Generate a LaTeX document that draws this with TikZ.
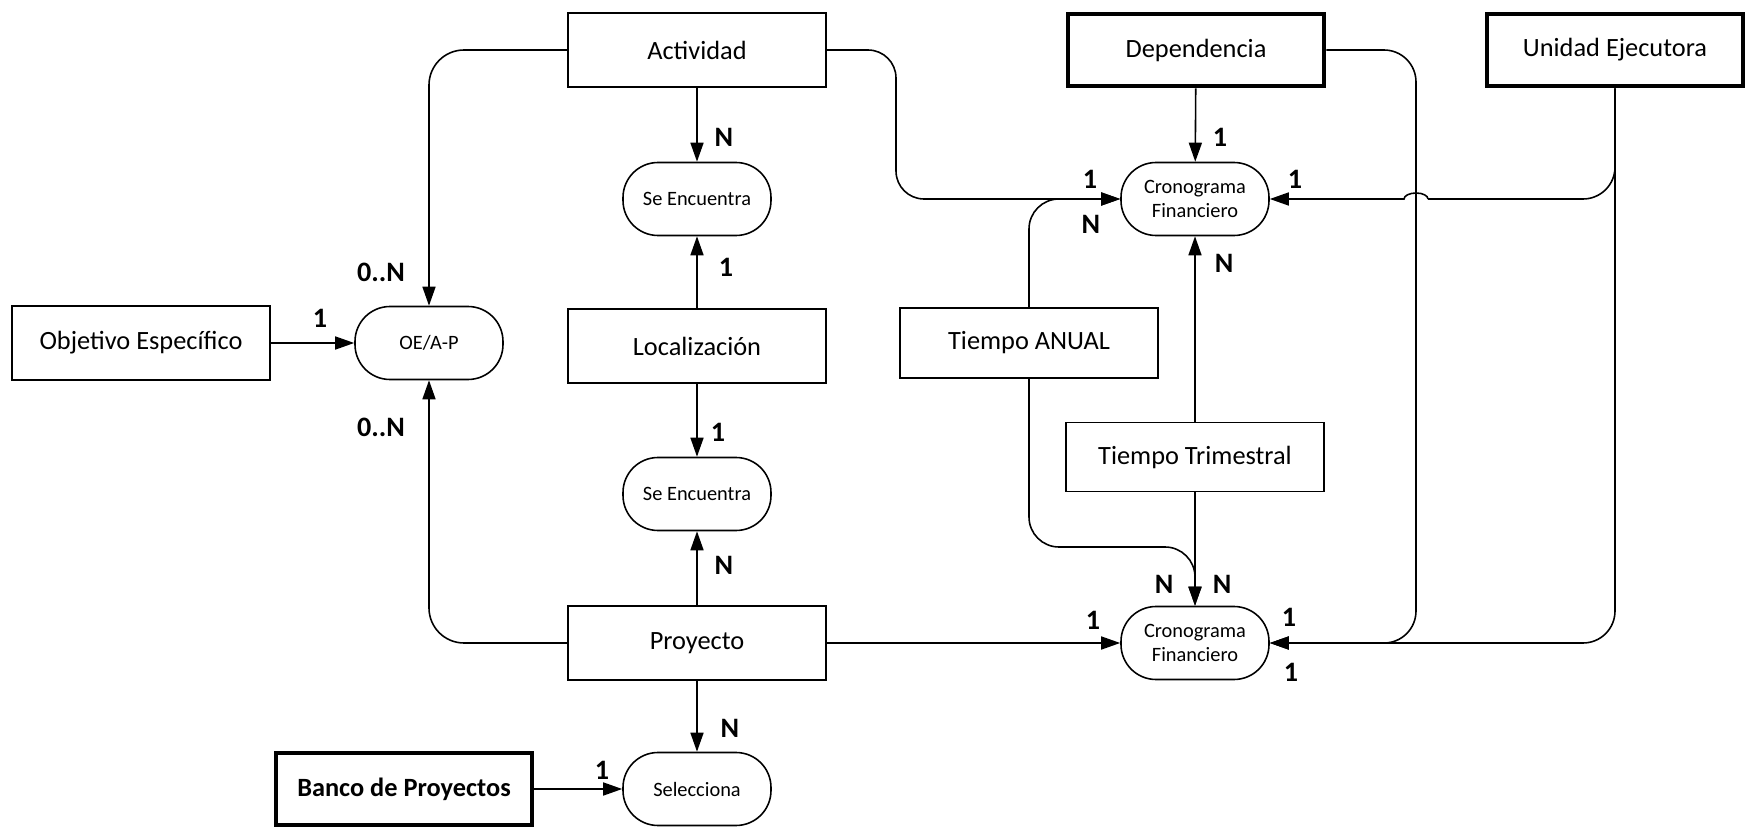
\documentclass[tikz,border=0pt]{standalone}
\usepackage{fontspec}
\setmainfont{Carlito}
\usetikzlibrary{arrows.meta}
\begin{document}
\begin{tikzpicture}[x=0.1mm,y=-0.1mm,
  ent/.style={draw, line width=0.45pt, minimum width=25.8mm, minimum height=7.4mm,
    inner sep=0pt, font=\fontsize{7.5}{9}\selectfont},
  strong/.style={ent, line width=1.4pt, minimum width=25.6mm, minimum height=7.2mm},
  rel/.style={draw, line width=0.45pt, rounded corners=3.5mm, minimum width=14.8mm,
    minimum height=7.3mm, inner sep=0pt, align=center, font=\fontsize{5.8}{6.9}\selectfont},
  card/.style={inner sep=0pt, font=\bfseries\fontsize{8}{9.6}\selectfont},
  wire/.style={line width=0.45pt},
  link/.style={wire, -{Triangle[length=1.9mm,width=1.3mm]}},
]
\useasboundingbox (0,0) rectangle (1747,828);

% entities
\node[ent] (obj) at (141,343) {Objetivo Específico};
\node[ent] (act) at (697,50) {Actividad};
\node[ent] (loc) at (697,346) {Localización};
\node[ent] (proy) at (697,643) {Proyecto};
\node[strong, font=\bfseries\fontsize{7.5}{9}\selectfont] (banco) at (404,789) {Banco de Proyectos};
\node[strong] (dep) at (1196,50) {Dependencia};
\node[strong] (ue) at (1615,50) {Unidad Ejecutora};
\node[ent, minimum height=7mm] (anual) at (1029,343) {Tiempo ANUAL};
\node[ent, minimum height=6.9mm] (trim) at (1195,457) {Tiempo Trimestral};

% relationships
\node[rel] (oe) at (429,343) {OE/A-P};
\node[rel] (se1) at (697,199) {Se Encuentra};
\node[rel] (se2) at (697,494) {Se Encuentra};
\node[rel] (sel) at (697,789) {Selecciona};
\node[rel] (cr1) at (1195,199) {Cronograma\\Financiero};
\node[rel] (cr2) at (1195,643) {Cronograma\\Financiero};

% routing helpers
\coordinate (ja) at (896,0);
\coordinate (jb) at (1100,547);
\coordinate (jd) at (1416,0);
\coordinate (hop) at (1428,199);

% connectors
\draw[link] (obj) -- (oe);
\draw[link, rounded corners=3.5mm] (act.west) -| (oe.north);
\draw[link, rounded corners=3.5mm] (proy.west) -| (oe.south);
\draw[link] (act) -- (se1);
\draw[link] (loc) -- (se1);
\draw[link] (loc) -- (se2);
\draw[link] (proy) -- (se2);
\draw[link] (proy) -- (sel);
\draw[link] (banco) -- (sel);
\draw[link] (proy) -- (cr2);
\draw[link, rounded corners=2.8mm] (act.east) -| (ja |- cr1.west) -- (cr1.west);
\draw[link, rounded corners=3mm] (anual.north) |- (cr1.west);
\draw[link, rounded corners=3mm] (anual.south) |- (jb) -| (cr2.north);
\draw[link] (trim) -- (cr1);
\draw[link] (trim) -- (cr2);
\draw[link] (dep) -- (cr1);
\draw[link, rounded corners=3.2mm] (dep.east) -| (jd |- cr2.east) -- (cr2.east);
\draw[link, rounded corners=3.2mm] (ue.south) |- (cr2.east);
% branch to the upper schedule, hopping over the Dependencia line
\draw[wire, rounded corners=3.2mm] (ue.south) |- (hop);
\draw[link] (hop) arc[start angle=0, end angle=-180, x radius=12, y radius=6] -- (cr1.east);

% cardinalities
\node[card] (k1) at (320,318) {1};
\node[card] (k2) at (381,272) {0..N};
\node[card] (k3) at (381,427) {0..N};
\node[card] (k4) at (724,137) {N};
\node[card] (k5) at (726,267) {1};
\node[card] (k6) at (718,432) {1};
\node[card] (k7) at (724,565) {N};
\node[card] (k8) at (730,728) {N};
\node[card] (k9) at (602,770) {1};
\node[card] (k10) at (1090,179) {1};
\node[card] (k11) at (1091,224) {N};
\node[card] (k12) at (1220,137) {1};
\node[card] (k13) at (1295,179) {1};
\node[card] (k14) at (1224,263) {N};
\node[card] (k15) at (1164,584) {N};
\node[card] (k16) at (1222,584) {N};
\node[card] (k17) at (1093,620) {1};
\node[card] (k18) at (1289,617) {1};
\node[card] (k19) at (1291,672) {1};
\end{tikzpicture}
\end{document}
